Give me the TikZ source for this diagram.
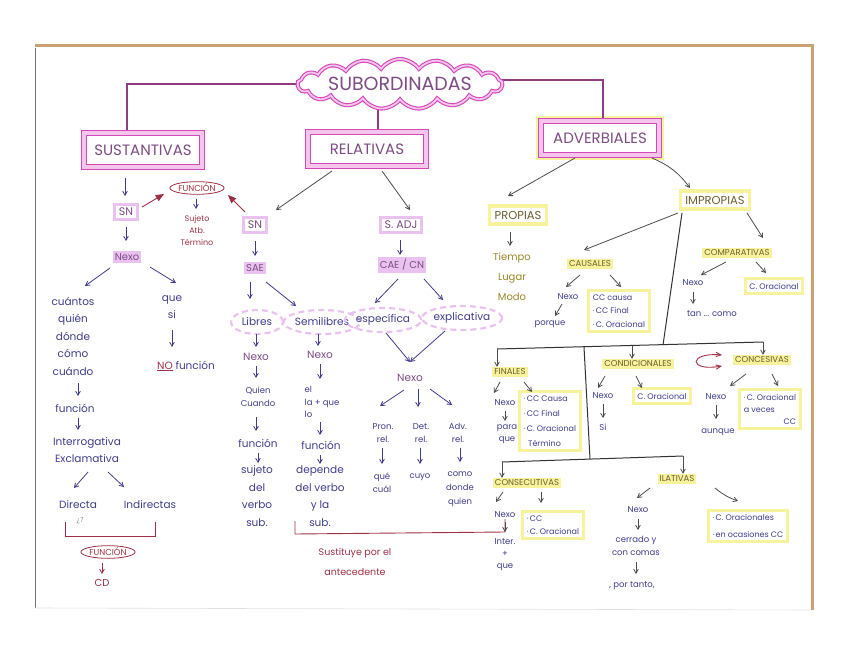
\documentclass[tikz,border=0pt]{standalone}
\usepackage{fontspec}
\setmainfont{Poppins}
\newfontfamily\simbolos{DejaVu Sans}
\usepackage{tikz}
\usetikzlibrary{shapes.geometric, shapes.symbols, arrows, positioning, backgrounds, fit}

\definecolor{tinta}{HTML}{3F3C8C}
\definecolor{morado}{HTML}{7D4C84}
\definecolor{rosafuerte}{HTML}{D448B8}
\definecolor{rosa}{HTML}{F4C6EC}
\definecolor{lila}{HTML}{E9C2F0}
\definecolor{amarillo}{HTML}{F7F29C}
\definecolor{granate}{HTML}{9E3046}
\definecolor{oliva}{HTML}{9A8628}
\definecolor{ocre}{HTML}{6C5E30}
\definecolor{carton}{HTML}{C9A273}
\definecolor{ramas}{HTML}{8E3C84}

\tikzset{
    nube/.style={cloud, cloud puffs=17, cloud puff arc=110, cloud ignores aspect, minimum width=205pt, minimum height=50pt, draw=rosafuerte, double=rosa, double distance=1.8pt, line width=1.1pt, fill=white},
    tipo/.style={rectangle, minimum width=118pt, minimum height=34pt, draw=rosafuerte, double=rosa, double distance=3.5pt, line width=1.2pt, fill=white, text=morado, font=\fontsize{15}{16}\selectfont},
    cajasn/.style={rectangle, draw=lila, line width=3pt, inner sep=4pt, fill=white, text=morado, font=\fontsize{11}{12}\selectfont},
    cajaam/.style={rectangle, draw=amarillo, line width=3.5pt, inner sep=5pt, fill=white, text=ocre, font=\fontsize{11.5}{12}\selectfont},
    marca/.style={fill=lila, inner sep=2pt, text=morado, font=\fontsize{10}{11}\selectfont},
    marcaam/.style={fill=amarillo, inner sep=2pt, text=ocre, font=\fontsize{8.5}{10}\selectfont},
    texto/.style={text=tinta, align=center, inner sep=1pt, font=\fontsize{10.5}{17.5}\selectfont},
    nota/.style={text=tinta, align=center, inner sep=1pt, font=\fontsize{8.5}{12.5}\selectfont},
    lista/.style={rectangle, draw=amarillo, line width=3pt, inner sep=4pt, text=tinta, align=left, font=\fontsize{8}{13.5}\selectfont},
    punteado/.style={ellipse, draw=lila, dash pattern=on 6pt off 4pt, line width=2.2pt, inner sep=0pt, minimum height=24pt, text=tinta, font=\fontsize{10.5}{11}\selectfont},
    funcion/.style={ellipse, draw=granate, line width=0.8pt, inner sep=0.5pt, text=granate, font=\fontsize{8.5}{10}\selectfont},
    rojo/.style={text=granate, align=center, inner sep=1pt, font=\fontsize{8}{12}\selectfont},
    arrow/.style={->, >=angle 60, line width=0.8pt, draw=black!70},
    arrowt/.style={arrow, draw=tinta},
    flechaf/.style={->, >=triangle 45, line width=0.9pt, draw=granate},
    rama/.style={line width=1.1pt, draw=ramas},
    linea/.style={line width=1pt, draw=black!80}
}

\begin{document}
\begin{tikzpicture}[x=1pt, y=-1pt]
        \useasboundingbox (0,0) rectangle (848,655);

        % Bordes de la hoja
        \draw [carton, line width=3pt] (35,46) -- (812,46) -- (812,610);
        \draw [black!55, line width=0.8pt] (35,48) -- (35,608);
        \draw [black!12, line width=0.6pt] (35,608) -- (812,610);

        % Titulo y tres tipos
        \node (sub) [nube] at (400,84) {};
        \node (subtxt) [text=morado, font=\fontsize{19}{20}\selectfont] at (sub) {SUBORDINADAS};
        \node (sus) [tipo] at (143,150) {SUSTANTIVAS};
        \node (rel) [tipo] at (367,149) {RELATIVAS};
        \node (adv) [tipo] at (600,138) {ADVERBIALES};

        \coordinate (codo1) at (127,84);
        \coordinate (codo2) at (603,80);
        \coordinate (medio) at (378,100);

        \begin{scope}[on background layer]
            \node [fit=(adv), draw=amarillo, line width=9pt, inner sep=0pt] (adv_glow) {};
            \draw [rama] (sub.center |- codo1) -- (codo1) -- (codo1 |- sus.north);
            \draw [rama] (sub.center |- codo2) -- (codo2) -- (codo2 |- adv.north);
            \draw [rama] (medio |- sub.center) -- (medio |- rel.north);
        \end{scope}

        % Sustantivas
        \node (snsus) [cajasn] at (126,212) {SN};
        \node (func1) [funcion] at (197,188) {FUNCIÓN};
        \node (suj) [rojo] at (197,230) {Sujeto\\Atb.\\Término};
        \node (nexo1) [marca] at (127,257) {Nexo};
        \node (cuantos) [texto] at (73,336) {cuántos\\quién\\dónde\\cómo\\cuándo};
        \node (que) [texto] at (172,307) {que\\si};
        \node (nof) [texto] at (186,366) {{\color{granate}\underline{NO}} función};
        \node (funcA) [texto] at (75,408) {función};
        \node (inter) [texto] at (87,450) {Interrogativa\\Exclamativa};
        \node (directa) [texto] at (78,505) {Directa};
        \node (indirectas) [texto] at (150,505) {Indirectas};
        \node (preg) [text=black!45, font=\simbolos\fontsize{7}{8}\selectfont] at (80,521) {¿?};
        \node (func2) [funcion] at (108,552) {FUNCIÓN};
        \node (cd) [rojo, font=\fontsize{10}{11}\selectfont] at (102,583) {CD};

        \draw [arrowt] ([shift={(-18,28)}]sus.center) -- ([shift={(-1,-16)}]snsus.center);
        \draw [flechaf] ([shift={(16,-5)}]snsus.center) -- ([shift={(-33,6)}]func1.center);
        \draw [arrowt] ([shift={(-1,11)}]func1.center) -- ([shift={(-1,-21)}]suj.center);
        \draw [arrowt] ([shift={(0,15)}]snsus.center) -- ([shift={(-1,-16)}]nexo1.center);
        \draw [arrowt] ([shift={(-17,11)}]nexo1.center) -- ([shift={(12,-50)}]cuantos.center);
        \draw [arrowt] ([shift={(23,10)}]nexo1.center) -- ([shift={(4,-24)}]que.center);
        \draw [arrowt] ([shift={(5,47)}]cuantos.center) -- ([shift={(3,-12)}]funcA.center);
        \draw [arrowt] ([shift={(3,10)}]funcA.center) -- ([shift={(-9,-20)}]inter.center);
        \draw [arrowt] ([shift={(1,22)}]inter.center) -- ([shift={(-4,-17)}]directa.center);
        \draw [arrowt] ([shift={(21,22)}]inter.center) -- ([shift={(-26,-18)}]indirectas.center);
        \draw [arrowt] ([shift={(0,23)}]que.center) -- ([shift={(-14,-19)}]nof.center);
        \draw [arrowt, draw=granate] ([shift={(-6,11)}]func2.center) -- ([shift={(0,-9)}]cd.center);
        \draw [granate, line width=0.9pt] (65,522) -- (65,536) -- (155,536) -- (155,522);

        % Relativas
        \node (snrel) [cajasn] at (255,225) {SN};
        \node (sadj) [cajasn] at (401,225) {S. ADJ};
        \node (sae) [marca] at (255,268) {SAE};
        \node (libres) [punteado, minimum width=52pt] at (257,322) {Libres};
        \node (semi) [punteado] at (322,322) {Semilibres};
        \node (espec) [punteado] at (383,320) {específica};
        \node (expli) [punteado] at (462,318) {explicativa};
        \node (nexo2) [texto, text=morado] at (256,357) {Nexo};
        \node (quien) [nota] at (258,397) {Quien\\Cuando};
        \node (funcB) [texto] at (258,443) {función};
        \node (sujB) [texto] at (257,496) {sujeto\\del\\verbo\\sub.};
        \node (nexo3) [texto, text=morado] at (320,355) {Nexo};
        \node (ella) [nota, align=left] at (322,402) {el\\la + que\\lo};
        \node (funcC) [texto] at (321,445) {función};
        \node (depende) [texto] at (320,496) {depende\\del verbo\\y la\\sub.};
        \node (cae) [marca] at (402,265) {CAE / CN};
        \node (nexo4) [texto, text=morado] at (410,378) {Nexo};
        \node (pron) [nota] at (383,433) {Pron.\\rel.};
        \node (det) [nota] at (421,433) {Det.\\rel.};
        \node (advr) [nota] at (458,433) {Adv.\\rel.};
        \node (quecual) [nota, font=\fontsize{8.5}{13}\selectfont] at (382,483) {qué\\cuál};
        \node (cuyo) [nota] at (420,477) {cuyo};
        \node (como) [nota, font=\fontsize{8.5}{14}\selectfont] at (460,489) {como\\donde\\quien};
        \node (sust) [rojo, font=\fontsize{9.5}{20}\selectfont] at (355,562) {Sustituye por el\\antecedente};

        \draw [flechaf] ([shift={(-10,-13)}]snrel.center) -- ([shift={(31,7)}]func1.center);
        \draw [arrow] ([shift={(-35,22)}]rel.center) -- ([shift={(21,-15)}]snrel.center);
        \draw [arrow] ([shift={(15,22)}]rel.center) -- ([shift={(9,-15)}]sadj.center);
        \draw [arrowt] ([shift={(0,16)}]snrel.center) -- ([shift={(0,-12)}]sae.center);
        \draw [arrowt] ([shift={(-5,14)}]sae.center) -- ([shift={(-7,-23)}]libres.center);
        \draw [arrowt] ([shift={(11,14)}]sae.center) -- ([shift={(-26,-16)}]semi.center);
        \draw [arrowt] ([shift={(-1,12)}]libres.center) -- ([shift={(0,-10)}]nexo2.center);
        \draw [arrowt] ([shift={(0,9)}]nexo2.center) -- ([shift={(-2,-19)}]quien.center);
        \draw [arrowt] ([shift={(-2,20)}]quien.center) -- ([shift={(-2,-12)}]funcB.center);
        \draw [arrowt] ([shift={(0,10)}]funcB.center) -- ([shift={(1,-33)}]sujB.center);
        \draw [arrowt] ([shift={(-4,12)}]semi.center) -- ([shift={(-2,-9)}]nexo3.center);
        \draw [arrowt] ([shift={(0,9)}]nexo3.center) -- ([shift={(-2,-23)}]ella.center);
        \draw [arrowt] ([shift={(-2,20)}]ella.center) -- ([shift={(-1,-10)}]funcC.center);
        \draw [arrowt] ([shift={(-1,10)}]funcC.center) -- ([shift={(0,-32)}]depende.center);
        \draw [arrowt] ([shift={(-1,15)}]sadj.center) -- ([shift={(-2,-10)}]cae.center);
        \draw [arrowt] ([shift={(-4,14)}]cae.center) -- ([shift={(-8,-17)}]espec.center);
        \draw [arrowt] ([shift={(22,14)}]cae.center) -- ([shift={(-19,-18)}]expli.center);
        \draw [arrowt] ([shift={(3,13)}]espec.center) -- ([shift={(0,-16)}]nexo4.center);
        \draw [arrowt] ([shift={(-17,13)}]expli.center) -- ([shift={(0,-16)}]nexo4.center);
        \draw [arrowt] ([shift={(-6,12)}]nexo4.center) -- ([shift={(-3,-27)}]pron.center);
        \draw [arrowt] ([shift={(8,11)}]nexo4.center) -- ([shift={(-3,-26)}]det.center);
        \draw [arrowt] ([shift={(20,11)}]nexo4.center) -- ([shift={(-6,-28)}]advr.center);
        \draw [arrowt] ([shift={(-1,15)}]pron.center) -- ([shift={(0,-19)}]quecual.center);
        \draw [arrowt] ([shift={(-1,15)}]det.center) -- ([shift={(0,-13)}]cuyo.center);
        \draw [arrowt] ([shift={(2,15)}]advr.center) -- ([shift={(0,-27)}]como.center);
        \draw [granate, line width=0.9pt] (295,521) -- (295,534) -- (505,532) -- (505,519);

        % Adverbiales
        \node (prop) [cajaam] at (518,215) {PROPIAS};
        \node (improp) [cajaam] at (715,200) {IMPROPIAS};
        \node (tiempo) [texto, text=oliva, font=\fontsize{10}{20}\selectfont] at (512,277) {Tiempo\\Lugar\\Modo};
        \node (caus) [marcaam] at (590,264) {CAUSALES};
        \node (nexo5) [nota] at (568,297) {Nexo};
        \node (porque) [nota] at (550,324) {porque};
        \node (lcaus) [lista] at (619,311) {CC causa\\·\,CC Final\\·\,C. Oracional};
        \node (comp) [marcaam] at (737,253) {COMPARATIVAS};
        \node (nexo6) [nota] at (693,283) {Nexo};
        \node (tan) [nota] at (712,314) {tan ... como};
        \node (lcomp) [lista] at (774,286) {C. Oracional};
        \node (fin) [marcaam] at (510,372) {FINALES};
        \node (nexo7) [nota] at (505,403) {Nexo};
        \node (para) [nota, font=\fontsize{8.5}{12}\selectfont] at (507,434) {para\\que};
        \node (lfin) [lista, font=\fontsize{8}{15}\selectfont] at (550,421) {·\,CC Causa\\·\,CC Final\\·\,C. Oracional\\\ \ Término};
        \node (cond) [marcaam] at (638,364) {CONDICIONALES};
        \node (conc) [marcaam] at (762,360) {CONCESIVAS};
        \node (nexo8) [nota] at (603,396) {Nexo};
        \node (si) [nota] at (603,427) {Si};
        \node (lcond) [lista] at (662,396) {C. Oracional};
        \node (nexo9) [nota] at (716,397) {Nexo};
        \node (aunque) [nota] at (718,432) {aunque};
        \node (lconc) [lista, font=\fontsize{8}{12}\selectfont] at (770,409) {·\,C. Oracional\\a veces\\\hfill CC};
        \node (cons) [marcaam] at (527,483) {CONSECUTIVAS};
        \node (nexo10) [nota] at (505,515) {Nexo};
        \node (inter2) [nota, font=\fontsize{8.5}{12}\selectfont] at (505,555) {Inter.\\+\\que};
        \node (lcons) [lista] at (553,525) {·\,CC\\·\,C. Oracional};
        \node (ilat) [marcaam] at (677,479) {ILATIVAS};
        \node (nexo11) [nota] at (638,510) {Nexo};
        \node (cerrado) [nota] at (636,546) {cerrado y\\con comas};
        \node (portanto) [nota] at (632,586) {, por tanto,};
        \node (lilat) [lista, font=\fontsize{8}{17}\selectfont] at (748,526) {·\,C. Oracionales\\·\,en ocasiones CC};

        \coordinate (nudo) at (663,345);
        \coordinate (barra1i) at (497,349);
        \coordinate (barra1m) at (632,346);
        \coordinate (barra1d) at (763,342);
        \coordinate (baja) at (584,347);
        \coordinate (barra2) at (590,459);
        \coordinate (barra2i) at (502,462);
        \coordinate (barra2d) at (683,456);

        \draw [arrow] ([shift={(-25,20)}]adv.center) -- ([shift={(-10,-19)}]prop.center);
        \draw [arrow] ([shift={(52,20)}]adv.center) to [bend left=15] ([shift={(-25,-12)}]improp.center);
        \draw [arrow] ([shift={(-8,17)}]prop.center) -- ([shift={(-2,-31)}]tiempo.center);
        \draw [arrow] ([shift={(-37,13)}]improp.center) -- ([shift={(-6,-14)}]caus.center);
        \draw [arrow] ([shift={(32,13)}]improp.center) -- ([shift={(26,-15)}]comp.center);
        \draw [linea] ([shift={(-33,13)}]improp.center) -- (nudo);
        \draw [linea] (barra1i) -- (barra1d);
        \draw [linea] (baja) -- (barra2);
        \draw [linea] (barra2i) -- (barra2d);
        \draw [arrow] (barra1i) -- (barra1i |- fin.north);
        \draw [arrow] (barra1m) -- (barra1m |- cond.north);
        \draw [arrow] (barra1d) -- (barra1d |- conc.north);
        \draw [arrow] (barra2i) -- (barra2i |- cons.north);
        \draw [arrow] (barra2d) -- (barra2d |- ilat.north);

        \draw [arrow] ([shift={(-10,11)}]caus.center) -- ([shift={(-2,-10)}]nexo5.center);
        \draw [arrow] ([shift={(20,11)}]caus.center) -- ([shift={(2,-24)}]lcaus.center);
        \draw [arrow] ([shift={(-6,7)}]nexo5.center) -- ([shift={(5,-8)}]porque.center);
        \draw [arrow] ([shift={(-11,9)}]comp.center) -- ([shift={(8,-8)}]nexo6.center);
        \draw [arrow] ([shift={(19,9)}]comp.center) -- ([shift={(-8,-13)}]lcomp.center);
        \draw [arrow] ([shift={(0,9)}]nexo6.center) -- ([shift={(-19,-10)}]tan.center);
        \draw [arrow] ([shift={(-10,10)}]fin.center) -- ([shift={(-11,-10)}]nexo7.center);
        \draw [arrow] ([shift={(14,10)}]fin.center) -- ([shift={(-18,-29)}]lfin.center);
        \draw [arrow] ([shift={(0,8)}]nexo7.center) -- ([shift={(-2,-13)}]para.center);
        \draw [arrow] ([shift={(-33,12)}]cond.center) -- ([shift={(-5,-8)}]nexo8.center);
        \draw [arrow] ([shift={(-2,12)}]cond.center) -- ([shift={(-20,-8)}]lcond.center);
        \draw [arrow] ([shift={(0,8)}]nexo8.center) -- ([shift={(0,-9)}]si.center);
        \draw [granate, <->, >=angle 45, line width=0.9pt] ([shift={(-40,-5)}]conc.center) .. controls (688,352) and (688,372) .. ([shift={(-40,6)}]conc.center);
        \draw [arrow] ([shift={(-16,14)}]conc.center) -- ([shift={(14,-11)}]nexo9.center);
        \draw [arrow] ([shift={(10,14)}]conc.center) -- ([shift={(8,-23)}]lconc.center);
        \draw [arrow] ([shift={(0,8)}]nexo9.center) -- ([shift={(-2,-13)}]aunque.center);
        \draw [arrow] ([shift={(-24,9)}]cons.center) -- ([shift={(-9,-13)}]nexo10.center);
        \draw [arrow] ([shift={(14,9)}]cons.center) -- ([shift={(-12,-22)}]lcons.center);
        \draw [arrow] ([shift={(0,7)}]nexo10.center) -- ([shift={(0,-23)}]inter2.center);
        \draw [arrow] ([shift={(-27,9)}]ilat.center) -- ([shift={(-1,-12)}]nexo11.center);
        \draw [arrow] ([shift={(38,9)}]ilat.center) to [bend right=10] ([shift={(-10,-25)}]lilat.center);
        \draw [arrow] ([shift={(0,9)}]nexo11.center) -- ([shift={(2,-16)}]cerrado.center);
        \draw [arrow] ([shift={(0,16)}]cerrado.center) -- ([shift={(4,-12)}]portanto.center);

    \end{tikzpicture}
\end{document}
